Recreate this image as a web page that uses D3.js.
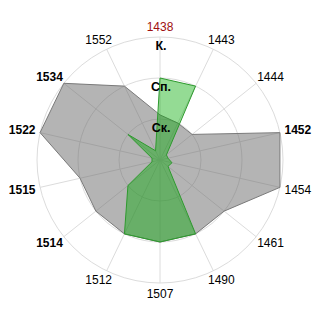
<!DOCTYPE html>
<html>
<head>
<meta charset="utf-8">
<script src="https://cdn.jsdelivr.net/npm/d3@7"></script>
<style>
  html, body { margin: 0; padding: 0; background: #fff; }
  svg { display: block; }
</style>
</head>
<body>
<svg id="chart" width="320" height="320"></svg>
<script>
const categories = ["1438","1443","1444","1452","1454","1461","1490","1507","1512","1514","1515","1522","1534","1552"];
const grayValues = [1.1, 1, 1, 3, 3, 2, 2, 2, 2, 2, 2, 3, 3, 2];
const greenValues = [2, 2, 0.2, 0.2, 0.3, 0.25, 2, 2, 2, 1, 0.2, 0.2, 1, 0.25];
const levelLabels = ["Ск.", "Сп.", "К."];
const levelValues = [1, 2, 3];
const boldCategories = ["1452","1514","1515","1522","1534"];
const highlightCategory = "1438";

const cx = 160, cy = 160, outerR = 123;
const svg = d3.select("#chart");
const g = svg.append("g").attr("transform", `translate(${cx},${cy})`);

const r = d3.scaleLinear().domain([0, 3]).range([0, outerR]);
const step = 2 * Math.PI / categories.length;
const ang = (c) => categories.indexOf(c) * step;

// grid rings
g.selectAll("circle.ring").data(levelValues).join("circle")
  .attr("class", "ring")
  .attr("r", d => r(d))
  .attr("fill", "none")
  .attr("stroke", "#dcdcdc")
  .attr("stroke-width", 1);

// spokes
g.selectAll("line.spoke").data(categories).join("line")
  .attr("class", "spoke")
  .attr("x1", 0).attr("y1", 0)
  .attr("x2", d => Math.sin(ang(d)) * r(3))
  .attr("y2", d => -Math.cos(ang(d)) * r(3))
  .attr("stroke", "#dcdcdc")
  .attr("stroke-width", 1);

const radial = d3.lineRadial()
  .angle((d, i) => i * step)
  .radius(d => r(d))
  .curve(d3.curveLinearClosed);

g.append("path")
  .datum(grayValues)
  .attr("d", radial)
  .attr("fill", "rgba(105,105,105,0.5)")
  .attr("stroke", "#7a7a7a")
  .attr("stroke-width", 1);

g.append("path")
  .datum(greenValues)
  .attr("d", radial)
  .attr("fill", "rgba(0,170,0,0.42)")
  .attr("stroke", "#2e9a2e")
  .attr("stroke-width", 1);

// level labels along the top axis
g.selectAll("text.level").data(levelValues).join("text")
  .attr("class", "level")
  .attr("x", 1)
  .attr("y", d => -r(d) + 13)
  .attr("text-anchor", "middle")
  .attr("font-family", "'Liberation Sans', Arial, sans-serif")
  .attr("font-weight", "bold")
  .attr("font-size", 12.5)
  .attr("fill", "#000")
  .text((d, i) => levelLabels[i]);

// category labels
const labelR = outerR + 5;
const labels = g.selectAll("text.cat").data(categories).join("text")
  .attr("class", "cat")
  .attr("font-family", "'Liberation Sans', Arial, sans-serif")
  .attr("font-size", 12)
  .attr("font-weight", d => boldCategories.includes(d) ? "bold" : "normal")
  .attr("fill", d => d === highlightCategory ? "#a01010" : "#000")
  .attr("text-anchor", "middle")
  .attr("dominant-baseline", "central")
  .text(d => d);

labels.each(function(d) {
  const a = ang(d);
  const w = this.getComputedTextLength();
  const h = 11;
  const px = Math.sin(a) * labelR + Math.sin(a) * w / 2;
  const py = -Math.cos(a) * labelR - Math.cos(a) * h / 2;
  d3.select(this).attr("x", px).attr("y", py);
});
</script>
</body>
</html>
